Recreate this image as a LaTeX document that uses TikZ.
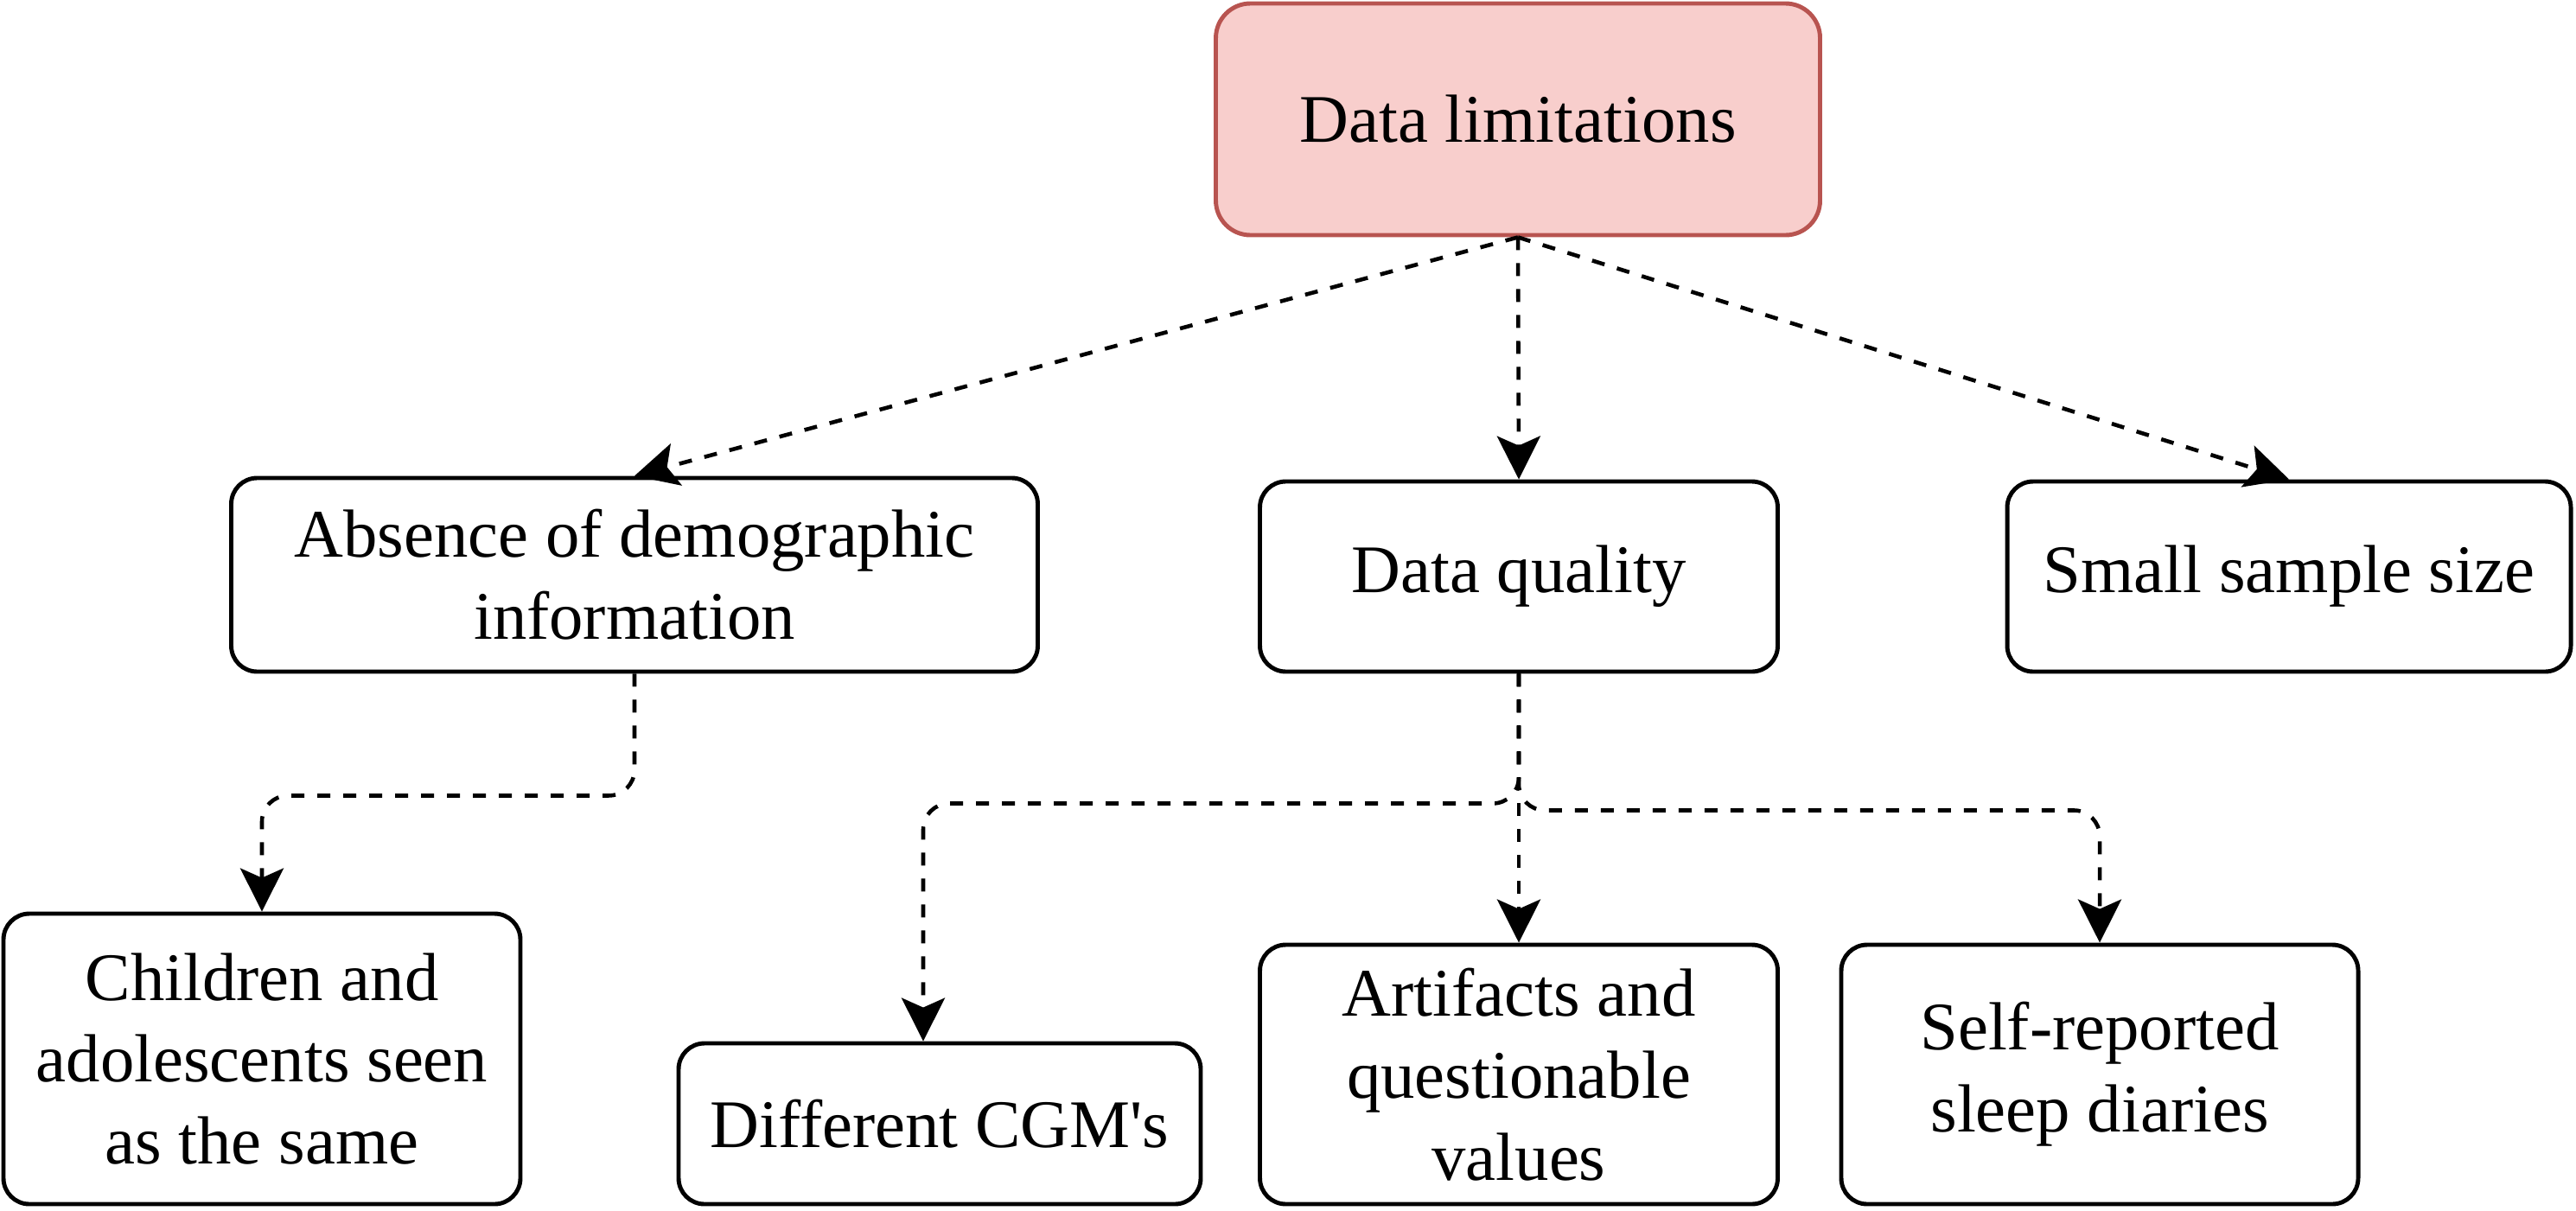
\documentclass[tikz,border=0pt]{standalone}
\usepackage{fontspec}
\setmainfont{Liberation Serif}
\usetikzlibrary{positioning,arrows.meta,calc}
\definecolor{limitfill}{HTML}{F8CECC}
\definecolor{limitdraw}{HTML}{B85450}

\begin{document}
\begin{tikzpicture}[align=center,font=\fontsize{22.4}{27}\selectfont]
    \tikzstyle{topic} = [draw,rounded corners=0.3cm,line width=1.4pt,inner sep=0pt]
    \tikzstyle{rootbox} = [topic,fill=limitfill,draw=limitdraw,rounded corners=0.4cm]
    \tikzstyle{link} = [dash pattern=on 0.15cm off 0.15cm,line width=1.3pt,rounded corners=0.3cm,-{Stealth[length=0.5cm,width=0.5cm,inset=0.11cm]}]
    \useasboundingbox (0,0) rectangle (29.8,-14);
      \node[rootbox,minimum width=6.99cm,minimum height=2.68cm] (limits) at (17.56,-1.38) {Data limitations};
      \node[topic,minimum width=9.33cm,minimum height=2.24cm] (absence) at (7.34,-6.65) {Absence of demographic\\information};
      \node[topic,minimum width=5.99cm,minimum height=2.2cm] (quality) at (17.57,-6.67) {Data quality};
      \node[topic,minimum width=6.52cm,minimum height=2.2cm] (sample) at (26.48,-6.67) {Small sample size};
      \node[topic,minimum width=5.98cm,minimum height=3.36cm] (children) at (3.03,-12.25) {Children and\\adolescents seen\\as the same};
      \node[topic,minimum width=6.04cm,minimum height=1.86cm] (cgm) at (10.87,-13.0) {Different CGM\textquotesingle s};
      \node[topic,minimum width=5.99cm,minimum height=3.0cm] (artifacts) at (17.57,-12.43) {Artifacts and\\questionable\\values};
      \node[topic,minimum width=5.98cm,minimum height=3.0cm] (diaries) at (24.29,-12.43) {Self-reported\\sleep diaries};
      \foreach \t in {(absence.north),(quality.north),(sample.north)} \draw[link] (limits.south) -- \t;
      \draw[link] (absence.south) -- ++(0,-1.41) -| (children.north);
      \draw[link] (quality.south) -- ++(0,-1.5) -| ([xshift=-0.19cm]cgm.north);
      \draw[link] (quality.south) -- (artifacts.north);
      \draw[link] (quality.south) -- ++(0,-1.58) -| (diaries.north);
  \end{tikzpicture}
\end{document}
